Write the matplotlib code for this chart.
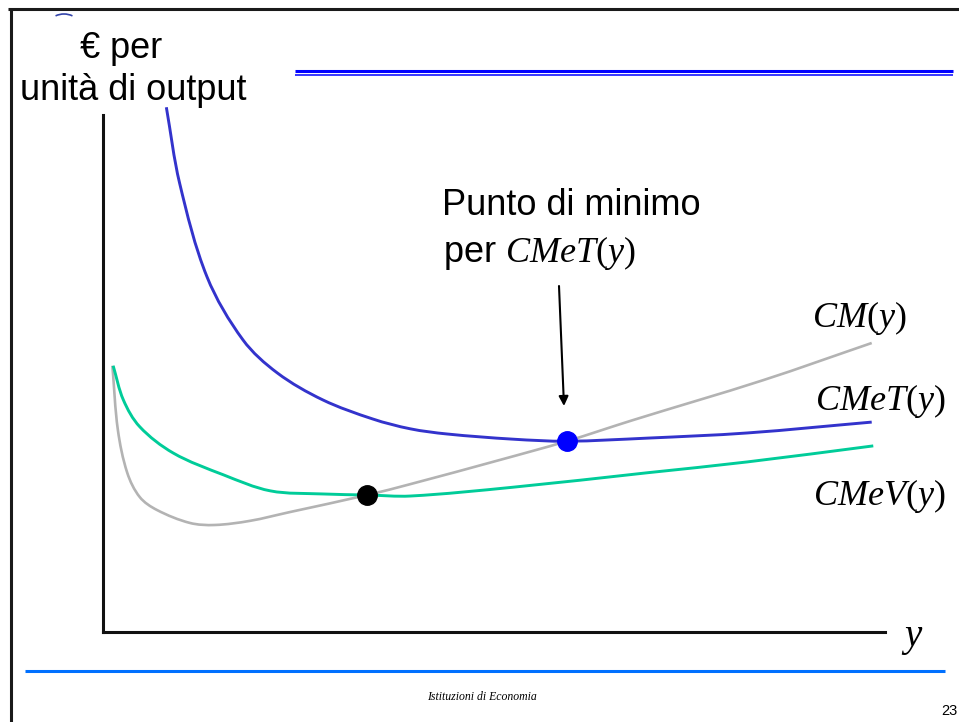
import matplotlib
matplotlib.use('Agg')
import matplotlib.pyplot as plt
import matplotlib.patches as patches
from matplotlib.path import Path
import numpy as np

plt.rcParams['font.family'] = ['Liberation Sans', 'DejaVu Sans']
plt.rcParams['mathtext.fontset'] = 'custom'
plt.rcParams['mathtext.rm'] = 'Liberation Serif'
plt.rcParams['mathtext.it'] = 'Liberation Serif:italic'

# curves (output y, euro per unit)
cmet_y = [0.81, 0.98, 1.33, 1.79, 2.23, 2.81, 3.45, 3.93, 4.40, 5.24, 5.93, 6.96, 8.24, 9.83]
cmet_c = [10.15, 8.68, 6.87, 5.65, 5.01, 4.49, 4.12, 3.93, 3.83, 3.73, 3.69, 3.75, 3.85, 4.06]

cmev_y = [0.13, 0.26, 0.47, 0.90, 1.54, 2.14, 2.81, 3.38, 3.93, 5.24, 6.96, 8.24, 9.85]
cmev_c = [5.15, 4.49, 3.97, 3.46, 3.04, 2.73, 2.67, 2.65, 2.63, 2.80, 3.08, 3.29, 3.60]

cm_y = [0.12, 0.19, 0.31, 0.47, 0.69, 1.11, 1.43, 1.88, 2.39, 3.38, 3.93, 5.08, 5.93, 6.78, 8.44, 9.83]
cm_c = [5.15, 3.91, 3.08, 2.61, 2.36, 2.11, 2.07, 2.15, 2.32, 2.65, 2.86, 3.33, 3.69, 4.10, 4.87, 5.59]

min_cmev = (3.38, 2.65)
min_cmet = (5.93, 3.69)

W, H = 959, 722
AX_W, AX_H = 782, 517


def smooth_path(xs, ys):
    # bezier path through the read points, handles follow chord length
    k = AX_H / AX_W
    p = np.column_stack([xs, np.array(ys) * k])
    n = len(p)
    tang = []
    for i in range(n):
        a = p[max(i - 1, 0)]
        b = p[min(i + 1, n - 1)]
        d = b - a
        tang.append(d / np.hypot(*d))
    verts = [p[0]]
    codes = [Path.MOVETO]
    for i in range(n - 1):
        L = np.hypot(*(p[i + 1] - p[i])) / 3
        verts += [p[i] + tang[i] * L, p[i + 1] - tang[i + 1] * L, p[i + 1]]
        codes += [Path.CURVE4] * 3
    verts = np.array(verts)
    verts[:, 1] /= k
    return Path(verts, codes)


fig = plt.figure(figsize=(W / 100, H / 100), dpi=100)

# overlay in pixel coordinates for the slide decoration and labels
deco = fig.add_axes([0, 0, 1, 1])
deco.set_xlim(0, W)
deco.set_ylim(H, 0)
deco.axis('off')

# slide frame
deco.plot([8, 959], [8.5, 8.5], color='#1a1a1a', lw=2.2, solid_capstyle='butt')
deco.plot([10.5, 10.5], [8, 722], color='#1a1a1a', lw=2.2, solid_capstyle='butt')
deco.add_patch(patches.Arc((64, 34), 40, 40, theta1=245, theta2=295, color='#3344aa', lw=1.2))

# double rule on top, single rule at bottom
deco.plot([295, 953], [71, 71], color='#0000ff', lw=2.2, solid_capstyle='butt')
deco.plot([295, 953], [75, 75], color='#0000ff', lw=1.1, solid_capstyle='butt')
deco.plot([25, 945], [671, 671], color='#0070ff', lw=2.2, solid_capstyle='butt')

# chart
ax = fig.add_axes([103 / W, 90 / H, AX_W / W, AX_H / H])
ax.set_xlim(0, 10)
ax.set_ylim(0, 10)
ax.patch.set_alpha(0)
for s in ['top', 'right']:
    ax.spines[s].set_visible(False)
for s in ['left', 'bottom']:
    ax.spines[s].set_linewidth(2.2)
    ax.spines[s].set_color('#111111')
ax.set_xticks([])
ax.set_yticks([])

curves = [(cm_y, cm_c, '#b3b3b3', 1.9, 2),
          (cmev_y, cmev_c, '#00cc99', 2.1, 3),
          (cmet_y, cmet_c, '#3333cc', 2.1, 3)]
for xs, ys, col, lw, z in curves:
    ax.add_patch(patches.PathPatch(smooth_path(xs, ys), facecolor='none', edgecolor=col,
                                   lw=lw, clip_on=False, zorder=z, capstyle='butt'))
ax.plot(*min_cmev, 'o', color='black', ms=14, zorder=5)
ax.plot(*min_cmet, 'o', color='#0000ff', ms=14, zorder=5)

# labels
deco.text(80, 58, '€ per', fontsize=26, ha='left', va='baseline')
deco.text(20, 100, 'unità di output', fontsize=26, ha='left', va='baseline')
deco.text(442, 215, 'Punto di minimo', fontsize=26, ha='left', va='baseline')
deco.text(443, 262, 'per $CMeT(y)$', fontsize=26, ha='left', va='baseline')
deco.text(812, 327, '$CM(y)$', fontsize=26, ha='left', va='baseline')
deco.text(815, 410, '$CMeT(y)$', fontsize=26, ha='left', va='baseline')
deco.text(813, 505, '$CMeV(y)$', fontsize=26, ha='left', va='baseline')
deco.text(901, 646, '$y$', fontsize=28, ha='left', va='baseline')

deco.annotate('', xy=(564, 406), xytext=(559, 286),
              arrowprops=dict(arrowstyle='-|>', color='black', lw=1.5,
                              mutation_scale=14, shrinkA=0, shrinkB=0))

deco.text(482, 700, 'Istituzioni di Economia', fontsize=8.5, family='Liberation Serif',
          style='italic', ha='center', va='baseline')
deco.text(957, 715, '23', fontsize=10.5, ha='right', va='baseline')

fig.savefig('out.png', dpi=100)
